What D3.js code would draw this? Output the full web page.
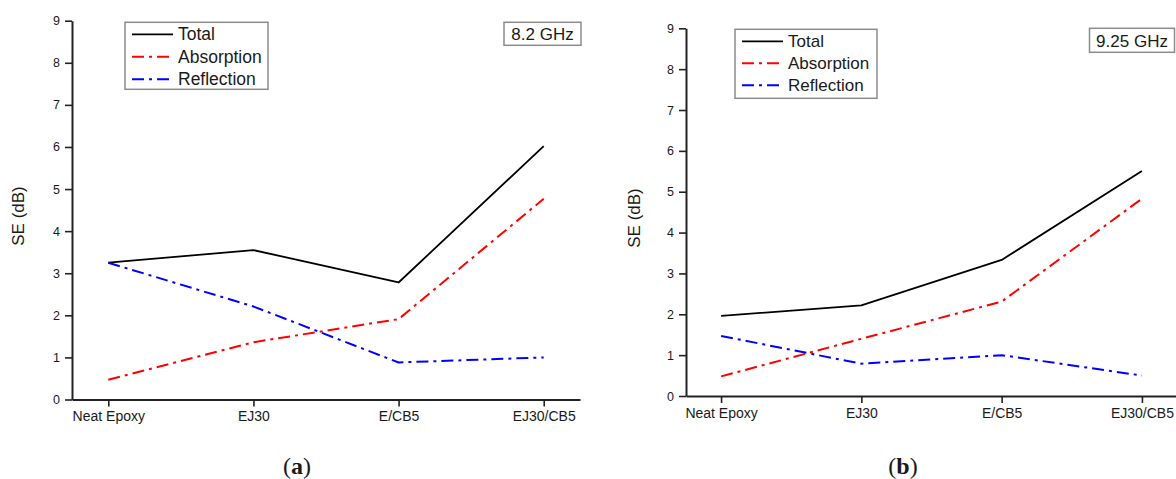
<!DOCTYPE html>
<html>
<head>
<meta charset="utf-8">
<script src="https://cdn.jsdelivr.net/npm/d3@7/dist/d3.min.js"></script>
<style>
  html, body { margin: 0; padding: 0; background: #fff; overflow: hidden; }
  svg { display: block; }
  text { font-family: "Liberation Sans", Arial, sans-serif; fill: #1a1a1a; }
</style>
</head>
<body>
<svg id="chart" width="1176" height="479"></svg>
<script>
// ---- data ----
const categories = ["Neat Epoxy", "EJ30", "E/CB5", "EJ30/CB5"];
const yTicks = [0, 1, 2, 3, 4, 5, 6, 7, 8, 9];
const seriesNames = ["Total", "Absorption", "Reflection"];

const totalA      = [3.25, 3.55, 2.78, 6.02];
const absorptionA = [0.47, 1.36, 1.91, 4.77];
const reflectionA = [3.25, 2.21, 0.88, 1.00];

const totalB      = [1.96, 2.22, 3.33, 5.51];
const absorptionB = [0.48, 1.40, 2.31, 4.83];
const reflectionB = [1.47, 0.79, 1.00, 0.50];

const frequencyLabels = ["8.2 GHz", "9.25 GHz"];
const panelLetters = ["a", "b"];

// ---- styles ----
const seriesStyle = {
  "Total":      { color: "#000000", dash: null,        width: 1.8 },
  "Absorption": { color: "#ff0000", dash: "12,5,3,5",  width: 2 },
  "Reflection": { color: "#0000ff", dash: "12,5,3,5",  width: 2 }
};

const svg = d3.select("#chart");

const panels = [
  { series: [totalA, absorptionA, reflectionA], freq: frequencyLabels[0], letter: panelLetters[0],
    left: 72, right: 580, top: 20.7, bottom: 399.5,
    legend: { x: 125, y: 22.3, w: 143, h: 67, row: 22.5, font: 17.5 },
    freqBox: { x: 504, y: 22.3, w: 77, h: 23 },
    titleX: 18.4, titleY: 216, captionX: 297, captionY: 474 },
  { series: [totalB, absorptionB, reflectionB], freq: frequencyLabels[1], letter: panelLetters[1],
    left: 686, right: 1177, top: 28.3, bottom: 396,
    legend: { x: 735, y: 29.3, w: 142, h: 69, row: 22, font: 17 },
    freqBox: { x: 1089.5, y: 28.3, w: 85, h: 24 },
    titleX: 634, titleY: 218, captionX: 903, captionY: 474 }
];

panels.forEach(p => {
  const g = svg.append("g");
  const x = d3.scalePoint().domain(categories).range([p.left, p.right]).padding(0.25);
  const y = d3.scaleLinear().domain([0, 9]).range([p.bottom, p.top]);

  // axes
  const xAxis = g.append("g").attr("transform", `translate(0,${p.bottom})`)
    .call(d3.axisBottom(x).tickSize(7).tickPadding(5).tickSizeOuter(0));
  const yAxis = g.append("g").attr("transform", `translate(${p.left},0)`)
    .call(d3.axisLeft(y).tickValues(yTicks).tickFormat(d3.format("d")).tickSize(7).tickPadding(5).tickSizeOuter(0));
  [xAxis, yAxis].forEach(a => {
    a.select(".domain").attr("stroke", "#222").attr("stroke-width", 2);
    a.selectAll(".tick line").attr("stroke", "#222").attr("stroke-width", 1.6);
    a.selectAll(".tick text").attr("fill", "#1a1a1a")
      .style("font-family", '"Liberation Sans", Arial, sans-serif');
  });
  xAxis.selectAll(".tick text").style("font-size", "14px");
  yAxis.selectAll(".tick text").style("font-size", "12.5px");

  // y title
  g.append("text")
    .attr("transform", `translate(${p.titleX},${p.titleY}) rotate(-90)`)
    .attr("text-anchor", "middle").attr("dominant-baseline", "central")
    .style("font-size", "17px").text("SE (dB)");

  // lines
  const line = d3.line().x((d, i) => x(categories[i])).y(d => y(d));
  p.series.forEach((vals, si) => {
    const st = seriesStyle[seriesNames[si]];
    g.append("path").datum(vals)
      .attr("d", line)
      .attr("fill", "none")
      .attr("stroke", st.color)
      .attr("stroke-width", st.width)
      .attr("stroke-linejoin", "round")
      .attr("stroke-dasharray", st.dash);
  });

  // legend
  const L = p.legend;
  g.append("rect").attr("x", L.x).attr("y", L.y).attr("width", L.w).attr("height", L.h)
    .attr("fill", "#fff").attr("stroke", "#8c8c8c").attr("stroke-width", 1.5);
  seriesNames.forEach((name, i) => {
    const st = seriesStyle[name];
    const cy = L.y + 12 + i * L.row;
    g.append("line").attr("x1", L.x + 7).attr("x2", L.x + 48).attr("y1", cy).attr("y2", cy)
      .attr("stroke", st.color).attr("stroke-width", st.width)
      .attr("stroke-dasharray", st.dash);
    g.append("text").attr("x", L.x + 53).attr("y", cy)
      .attr("dominant-baseline", "central")
      .style("font-size", L.font + "px").text(name);
  });

  // frequency box
  const F = p.freqBox;
  g.append("rect").attr("x", F.x).attr("y", F.y).attr("width", F.w).attr("height", F.h)
    .attr("fill", "#fff").attr("stroke", "#8c8c8c").attr("stroke-width", 1.5);
  g.append("text").attr("x", F.x + F.w / 2).attr("y", F.y + F.h / 2 + 1)
    .attr("text-anchor", "middle").attr("dominant-baseline", "central")
    .style("font-size", "17px").text(p.freq);

  // caption
  const cap = g.append("text").attr("x", p.captionX).attr("y", p.captionY)
    .attr("text-anchor", "middle")
    .style("font-family", '"Liberation Serif", "Times New Roman", serif')
    .style("font-size", "24px").attr("fill", "#000");
  cap.append("tspan").text("(");
  cap.append("tspan").style("font-weight", "bold").text(p.letter);
  cap.append("tspan").text(")");
});
</script>
</body>
</html>
